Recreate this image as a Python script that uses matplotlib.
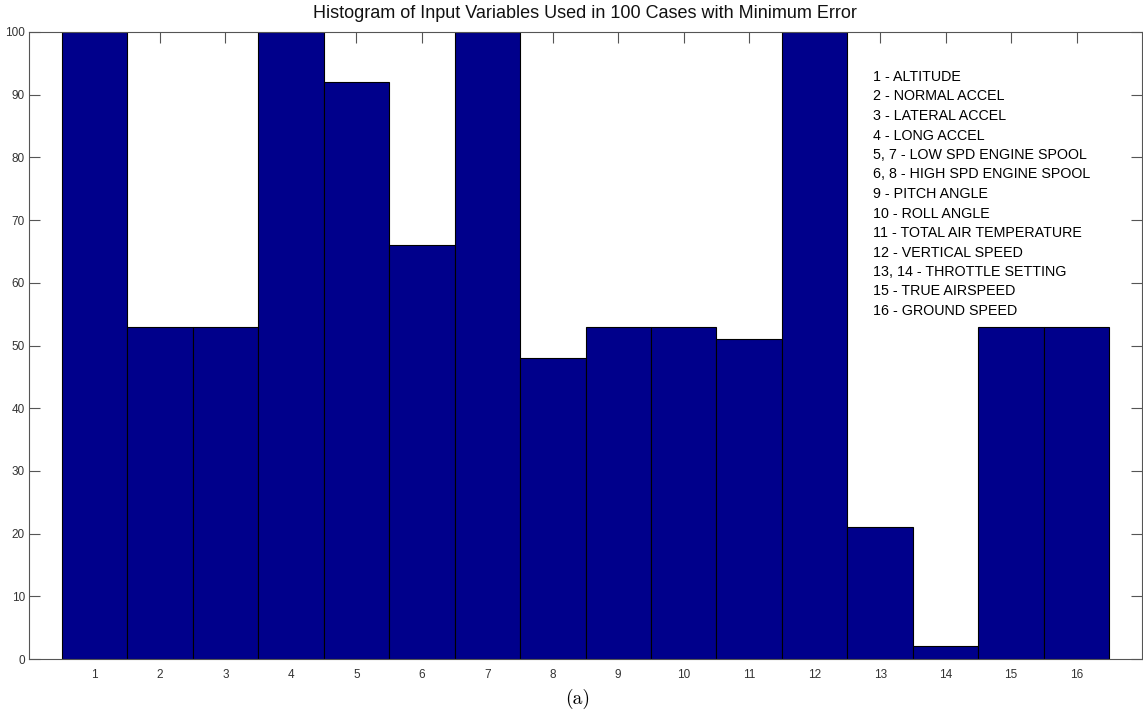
import matplotlib
matplotlib.use("Agg")
import matplotlib.pyplot as plt

categories = list(range(1, 17))
counts = [100, 53, 53, 100, 92, 66, 100, 48, 53, 53, 51, 100, 21, 2, 53, 53]
yticks = list(range(0, 101, 10))
legend_lines = [
    "1 - ALTITUDE",
    "2 - NORMAL ACCEL",
    "3 - LATERAL ACCEL",
    "4 - LONG ACCEL",
    "5, 7 - LOW SPD ENGINE SPOOL",
    "6, 8 - HIGH SPD ENGINE SPOOL",
    "9 - PITCH ANGLE",
    "10 - ROLL ANGLE",
    "11 - TOTAL AIR TEMPERATURE",
    "12 - VERTICAL SPEED",
    "13, 14 - THROTTLE SETTING",
    "15 - TRUE AIRSPEED",
    "16 - GROUND SPEED",
]
title = "Histogram of Input Variables Used in 100 Cases with Minimum Error"

plt.rcParams['font.family'] = ['Liberation Sans', 'DejaVu Sans']

fig = plt.figure(figsize=(11.43, 7.19), dpi=100)
ax = fig.add_axes([29/1143, 1 - 659/719, (1142 - 29)/1143, (659 - 32)/719])
ax.set_axisbelow(True)

ax.bar(categories, counts, width=1.0, color='#00008B', edgecolor='black', linewidth=0.8)
ax.set_xlim(0, 17)
ax.set_ylim(0, 100)
ax.set_xticks(categories)
ax.set_yticks(yticks)
ax.tick_params(direction='in', length=8, width=0.8, color='#555555', labelcolor='#333333',
               labelsize=8.5, top=True, right=True)
ax.tick_params(axis='x', pad=7)
ax.tick_params(axis='y', pad=3)
for s in ax.spines.values():
    s.set_color('#555555')
    s.set_linewidth(0.8)

fig.text(585/1143, 1 - 14/719, title, fontsize=13, ha='center', va='center', color='#111111')

y0 = 77
for i, line in enumerate(legend_lines):
    ypix = y0 + i * 19.5
    fig.text(873/1143, 1 - ypix/719, line, fontsize=10.3, va='center', ha='left', color='black')

fig.text(578/1143, 1 - 699/719, "(a)", fontsize=14, ha='center', va='center', family='cmr10')

fig.savefig("out.png", dpi=100)
